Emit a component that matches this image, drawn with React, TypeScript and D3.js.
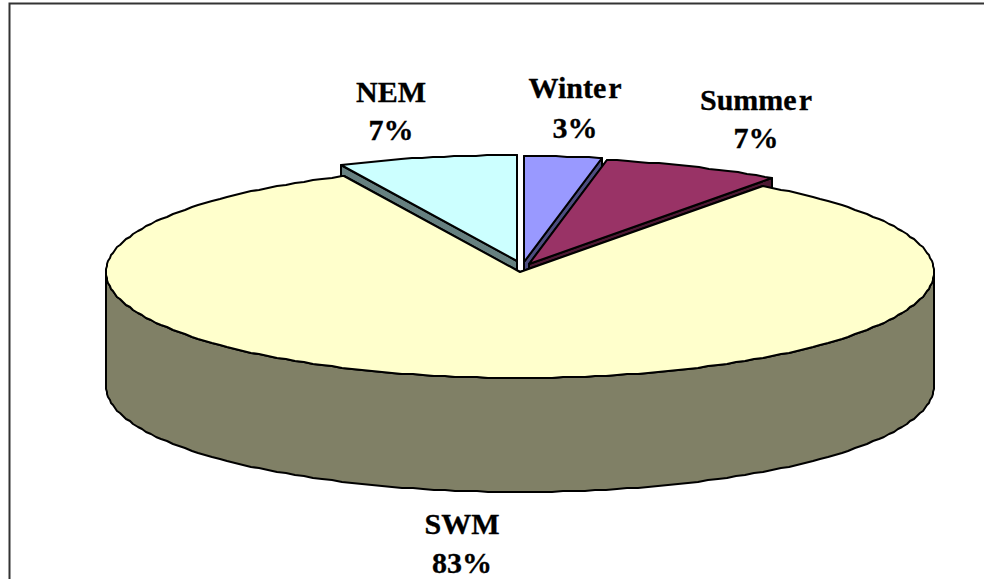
import React from "react";
import * as d3 from "d3";

// Seasonal share of the annual total
const seasons = ["Winter", "Summer", "SWM", "NEM"];
const shares = [3, 7, 83, 7];
const topColors = ["#9999ff", "#993366", "#ffffcc", "#ccffff"];
const wallColors = ["#4d4d80", "#4d1933", "#808066", "#668080"];

const WIDTH = 984;
const HEIGHT = 579;
const RX = 414;
const RY = 106;
const DEPTH = 114;
const SWM_INDEX = 2;

// Centre of each slice: the small slices are pulled away from the large one
const centres: [number, number][] = [
  [524, 262],
  [529, 264],
  [520, 272],
  [517, 261],
];

// Label placement, one entry per season: x, first baseline, second baseline
const labelX = [575, 756, 462, 391];
const labelY1 = [98, 110, 534, 102];
const labelY2 = [138, 148, 573, 140];

const pie = d3
  .pie<number>()
  .sort(null)
  .startAngle(0)
  .endAngle(2 * Math.PI);

const unitX = d3.scaleLinear().domain([-1, 1]).range([-RX, RX]);
const unitY = d3.scaleLinear().domain([-1, 1]).range([-RY, RY]);
const line = d3.line<[number, number]>();
const SAMPLE_STEP = (1.5 * Math.PI) / 180;

function rimPoint(a: number, cx: number, cy: number, drop = 0): [number, number] {
  return [
    Math.round(cx + unitX(Math.sin(a))),
    Math.round(cy + unitY(-Math.cos(a)) + drop),
  ];
}

function rim(a0: number, a1: number, cx: number, cy: number, drop = 0) {
  const angles = d3.range(a0, a1, SAMPLE_STEP).concat(a1);
  return angles.map((a) => rimPoint(a, cx, cy, drop));
}

function topPath(a0: number, a1: number, cx: number, cy: number) {
  return line([[cx, cy], ...rim(a0, a1, cx, cy)]) + "Z";
}

function radialWall(a: number, cx: number, cy: number) {
  const p = rimPoint(a, cx, cy);
  return (
    line([
      [cx, cy],
      p,
      [p[0], p[1] + DEPTH],
      [cx, cy + DEPTH],
    ]) + "Z"
  );
}

function outerWall(a0: number, a1: number, cx: number, cy: number) {
  const from = Math.max(a0, Math.PI / 2);
  const to = Math.min(a1, (3 * Math.PI) / 2);
  if (from >= to) return null;
  const upper = rim(from, to, cx, cy);
  const lower = rim(from, to, cx, cy, DEPTH).reverse();
  return line([...upper, ...lower]) + "Z";
}

function Label({ index }: { index: number }) {
  const name = seasons[index];
  // The trailing letter sits slightly apart in the two longer names
  const spaced = name === "Winter" || name === "Summer";
  return (
    <text
      textAnchor="middle"
      fontFamily="'Liberation Serif', serif"
      fontWeight="bold"
      fontSize={30}
      fill="#000"
      stroke="#000"
      strokeWidth={0.3}
    >
      <tspan x={labelX[index]} y={labelY1[index]}>
        {spaced ? name.slice(0, -1) : name}
      </tspan>
      {spaced && <tspan dx={2}>{name.slice(-1)}</tspan>}
      <tspan x={labelX[index]} y={labelY2[index]}>
        {shares[index]}%
      </tspan>
    </text>
  );
}

export default function App() {
  const arcs = pie(shares);
  // The large slice goes last so it hides the walls of the small ones
  const order = [3, 0, 1, SWM_INDEX];

  return (
    <svg
      width={WIDTH}
      height={HEIGHT}
      viewBox={`0 0 ${WIDTH} ${HEIGHT}`}
      style={{ position: "fixed", left: 0, top: 0, background: "#fff" }}
    >
      <path d={`M9.5 ${HEIGHT}V3.5H${WIDTH}`} fill="none" stroke="#333" strokeWidth={2} />
      <g stroke="#000" strokeWidth={2} strokeLinejoin="round">
        {order.map((i) => {
          const { startAngle, endAngle } = arcs[i];
          const [cx, cy] = centres[i];
          const wall = outerWall(startAngle, endAngle, cx, cy);
          return (
            <g key={seasons[i]}>
              <path d={radialWall(startAngle, cx, cy)} fill={wallColors[i]} />
              <path d={radialWall(endAngle, cx, cy)} fill={wallColors[i]} />
              {wall && <path d={wall} fill={wallColors[i]} />}
              <path d={topPath(startAngle, endAngle, cx, cy)} fill={topColors[i]} />
            </g>
          );
        })}
      </g>
      {seasons.map((_, i) => (
        <Label key={i} index={i} />
      ))}
    </svg>
  );
}
